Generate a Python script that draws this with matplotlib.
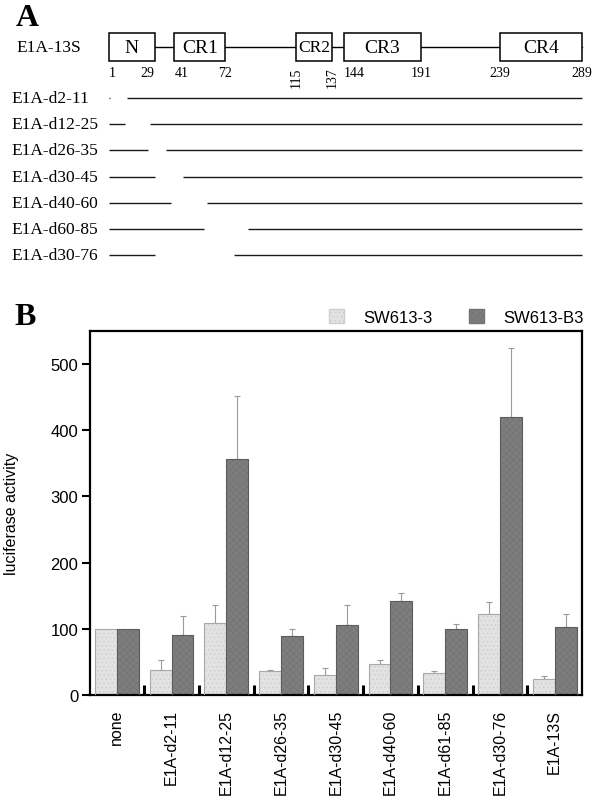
import matplotlib
matplotlib.use("Agg")
import matplotlib.pyplot as plt
import matplotlib.transforms as mtransforms
from matplotlib.patches import Rectangle, Patch
import numpy as np

# ---- panel A data ----
PROTEIN_LEN = 289
domains = ["N", "CR1", "CR2", "CR3", "CR4"]
domain_start = [1, 41, 115, 144, 239]
domain_end = [29, 72, 137, 191, 289]
deletions = ["E1A-d2-11", "E1A-d12-25", "E1A-d26-35", "E1A-d30-45",
             "E1A-d40-60", "E1A-d60-85", "E1A-d30-76"]
del_start = [2, 12, 26, 30, 40, 60, 30]
del_end = [11, 25, 35, 45, 60, 85, 76]
pos_labels = [1, 29, 41, 72, 115, 137, 144, 191, 239, 289]

# ---- panel B data ----
constructs = ["none", "E1A-d2-11", "E1A-d12-25", "E1A-d26-35", "E1A-d30-45",
              "E1A-d40-60", "E1A-d61-85", "E1A-d30-76", "E1A-13S"]
sw3 = [100, 38.4, 109, 36.9, 29.8, 46.5, 32.8, 122, 23.7]
sw3_err = [0, 14, 27, 1.5, 10.5, 6.5, 3.5, 18.5, 4.5]
swb3 = [100, 90.4, 356, 88.4, 106, 141.4, 99.5, 420, 103]
swb3_err = [0, 28.5, 96, 11, 30, 12, 8, 104, 19]
series_names = ["SW613-3", "SW613-B3"]

W, H = 600, 804
fig = plt.figure(figsize=(W / 100, H / 100), dpi=100)

SERIF = ["Liberation Serif", "DejaVu Serif"]
SANS = ["Liberation Sans", "DejaVu Sans"]

# ================= panel A =================
axa = fig.add_axes([108.7 / W, 1 - 256 / H, (582 - 108.7) / W, (256 - 34) / H])
axa.set_xlim(1, PROTEIN_LEN)
axa.set_ylim(6, -2.486)
axa.axis("off")
row_main = -1.95
box_h = 1.07
lab_tr = mtransforms.blended_transform_factory(fig.transFigure, axa.transData)

axa.plot([1, PROTEIN_LEN], [row_main, row_main], color="black", lw=1.0,
         zorder=1, clip_on=False)
for name, s, e in zip(domains, domain_start, domain_end):
    axa.add_patch(Rectangle((s, row_main - box_h / 2), e - s, box_h,
                            facecolor="white", edgecolor="black", lw=1.1,
                            zorder=2, clip_on=False))
    axa.text((s + e) / 2, row_main, name, ha="center", va="center",
             fontsize=12.5 if name == "CR2" else 14, family=SERIF, zorder=3)
fig.text(16.7 / W, row_main, "E1A-13S", transform=lab_tr, ha="left",
         va="center", fontsize=12.5, family=SERIF)

num_y = row_main + box_h / 2 + 0.2
for p in pos_labels:
    if p in (115, 137):
        axa.text(p, num_y, str(p), rotation=90, ha="center", va="top",
                 fontsize=10, family=SERIF)
    else:
        ha = {1: "left", 29: "right", 41: "left", 144: "left"}.get(p, "center")
        axa.text(p, num_y, str(p), ha=ha, va="top", fontsize=10, family=SERIF)

for i, (name, s, e) in enumerate(zip(deletions, del_start, del_end)):
    left_end = s - 1
    axa.plot([1, max(left_end, 1.7)], [i, i], color="#1a1a1a", lw=1.0,
             solid_capstyle="butt", clip_on=False)
    axa.plot([e + 1, PROTEIN_LEN], [i, i], color="#1a1a1a", lw=1.0,
             solid_capstyle="butt", clip_on=False)
    fig.text(11.7 / W, i, name, transform=lab_tr, ha="left", va="center",
             fontsize=12.5, family=SERIF)

fig.text(16 / W, 1 - 4 / H, "A", ha="left", va="top", fontsize=23,
         fontweight="bold", family=SERIF)
fig.text(14 / W, 1 - 303 / H, "B", ha="left", va="top", fontsize=23,
         fontweight="bold", family=SERIF)

# ================= panel B =================
plt.rcParams["hatch.linewidth"] = 0.5
axb = fig.add_axes([89.5 / W, 1 - 696 / H, (582 - 89.5) / W, (696 - 332) / H])
x = np.arange(len(constructs))
bw = 0.4
light_face, light_hatch, light_edge = "#e2e2e2", "#cdcdcd", "#a8a8a8"
dark_face, dark_hatch, dark_edge = "#7e7e7e", "#737373", "#5c5c5c"

axb.bar(x - bw / 2, sw3, bw, color=light_face, edgecolor=light_hatch,
        hatch="....", lw=0, zorder=2)
axb.bar(x - bw / 2, sw3, bw, fill=False, edgecolor=light_edge, lw=0.8, zorder=3)
axb.bar(x + bw / 2, swb3, bw, color=dark_face, edgecolor=dark_hatch,
        hatch="xxxxx", lw=0, zorder=2)
axb.bar(x + bw / 2, swb3, bw, fill=False, edgecolor=dark_edge, lw=0.8, zorder=3)

for off, vals, errs in ((-bw / 2, sw3, sw3_err), (bw / 2, swb3, swb3_err)):
    vals = np.array(vals)
    errs = np.array(errs)
    m = errs > 0
    axb.errorbar(x[m] + off, vals[m], yerr=[np.zeros(m.sum()), errs[m]],
                 fmt="none", ecolor="#9a9a9a", elinewidth=0.8, capsize=2.5,
                 capthick=0.8, zorder=1)

axb.set_xlim(-0.5, len(constructs) - 0.5)
axb.set_ylim(0, 550)
axb.set_yticks(np.arange(0, 501, 100))
for sp in axb.spines.values():
    sp.set_linewidth(1.6)
axb.tick_params(axis="y", direction="out", length=6, width=1.5, pad=2,
                labelsize=12)
axb.set_xticks(x)
axb.set_xticklabels(constructs, rotation=90, fontsize=11.5, family=SANS)
axb.tick_params(axis="x", which="major", length=0, pad=10)
axb.set_xticks(x[:-1] + 0.5, minor=True)
axb.tick_params(axis="x", which="minor", direction="in", length=7, width=2.2)
for lab in axb.get_yticklabels():
    lab.set_family(SANS)
axb.set_ylabel("luciferase activity", fontsize=11.5, family=SANS)
axb.yaxis.set_label_coords(-0.143, 0.5)

handles = [Patch(facecolor=light_face, edgecolor=light_hatch, hatch="...."),
           Patch(facecolor=dark_face, edgecolor=dark_hatch, hatch="xxxxx")]
fig.legend(handles, series_names, loc="center right", ncol=2, frameon=False,
           bbox_to_anchor=(584 / W, 1 - 318 / H), bbox_transform=fig.transFigure,
           borderaxespad=0, borderpad=0, handlelength=0.85, handleheight=0.85,
           handletextpad=1.2, columnspacing=2.2,
           prop={"family": SANS, "size": 12})

fig.savefig("out.png", dpi=100)
